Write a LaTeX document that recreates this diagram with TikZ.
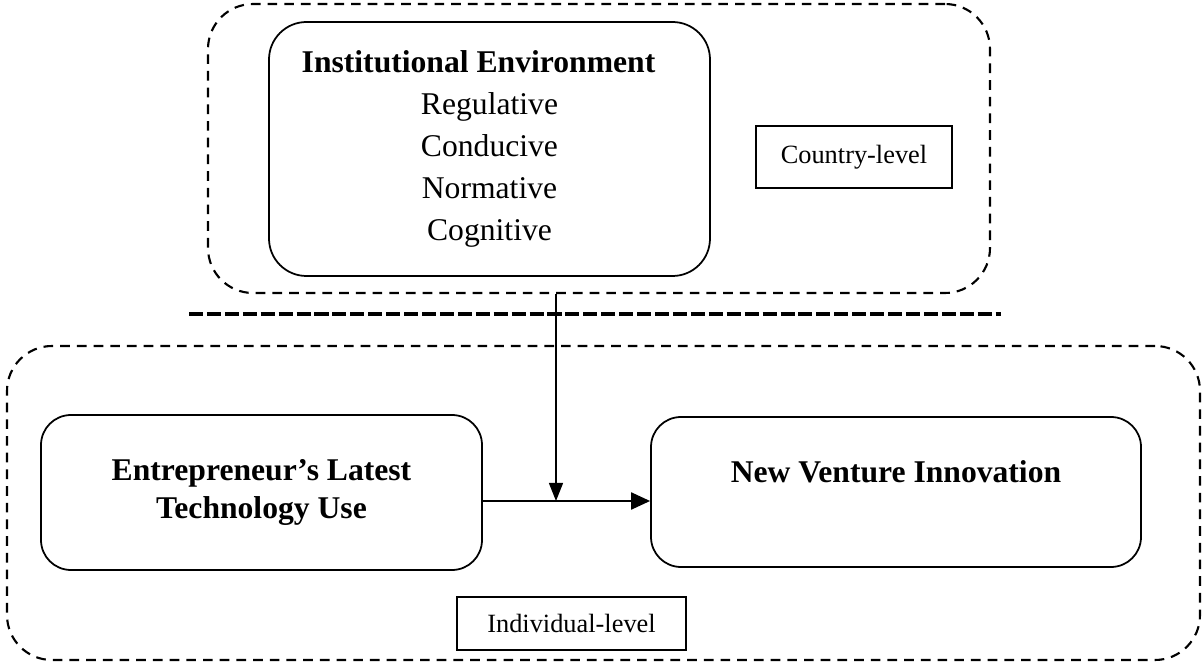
\documentclass[tikz,border=0pt]{standalone}
\usepackage{fontspec}
\setmainfont{Liberation Serif}
\usepackage{tikz}
\usetikzlibrary{positioning,arrows.meta}

\begin{document}
\begin{tikzpicture}[
  frame/.style={rectangle, draw, rounded corners=0.9cm, line width=1.2pt, dash pattern=on 5.5pt off 4pt},
  bigbox/.style={rectangle, draw, line width=1pt, align=center, font=\fontsize{18}{22}\selectfont\bfseries},
  levelbox/.style={rectangle, draw, line width=1pt, font=\fontsize{15}{18}\selectfont},
  arrow/.style={-{Triangle[length=0.38cm, width=0.34cm]}, line width=1.2pt},
  thinarrow/.style={-{Triangle[length=0.36cm, width=0.28cm]}, line width=0.8pt},
  divider/.style={line width=2.8pt, dash pattern=on 8pt off 2.2pt}
]
\useasboundingbox (0,0) rectangle (24.04,-13.26);

% Country-level part
\node[frame, minimum width=15.64cm, minimum height=5.78cm] (cframe) at (11.98,-2.97) {};
\node[rectangle, draw, rounded corners=0.75cm, line width=1pt, align=center,
      minimum width=8.82cm, minimum height=5.08cm, font=\fontsize{18}{23.9}\selectfont] (inst) at (9.79,-2.98)
  {\textbf{Institutional Environment}\hspace*{0.44cm}\\Regulative\\Conducive\\Normative\\Cognitive};
\node[levelbox, minimum width=3.92cm, minimum height=1.24cm] (country) at (17.08,-3.14) {Country-level};

% Divider
\draw[divider] (3.78,-6.28) -- (20.02,-6.28);

% Individual-level part
\node[frame, minimum width=23.86cm, minimum height=6.28cm] (iframe) at (12.07,-10.06) {};
\node[bigbox, rounded corners=0.6cm, minimum width=8.82cm, minimum height=3.1cm] (tech) at (5.23,-9.85)
  {Entrepreneur's Latest\\Technology Use};
\node[bigbox, rounded corners=0.6cm, minimum width=9.8cm, minimum height=3.0cm,
      text height=0.42cm, text depth=0.78cm] (nvi) at (17.92,-9.84) {New Venture Innovation};
\node[levelbox, minimum width=4.58cm, minimum height=1.06cm] (indiv) at (11.43,-12.47) {Individual-level};

% Arrows
\coordinate (mod) at (11.12,-10.02);
\draw[arrow] (tech.east |- mod) -- (nvi.west |- mod);
\draw[thinarrow] (cframe.south -| mod) -- (mod);

\end{tikzpicture}
\end{document}
